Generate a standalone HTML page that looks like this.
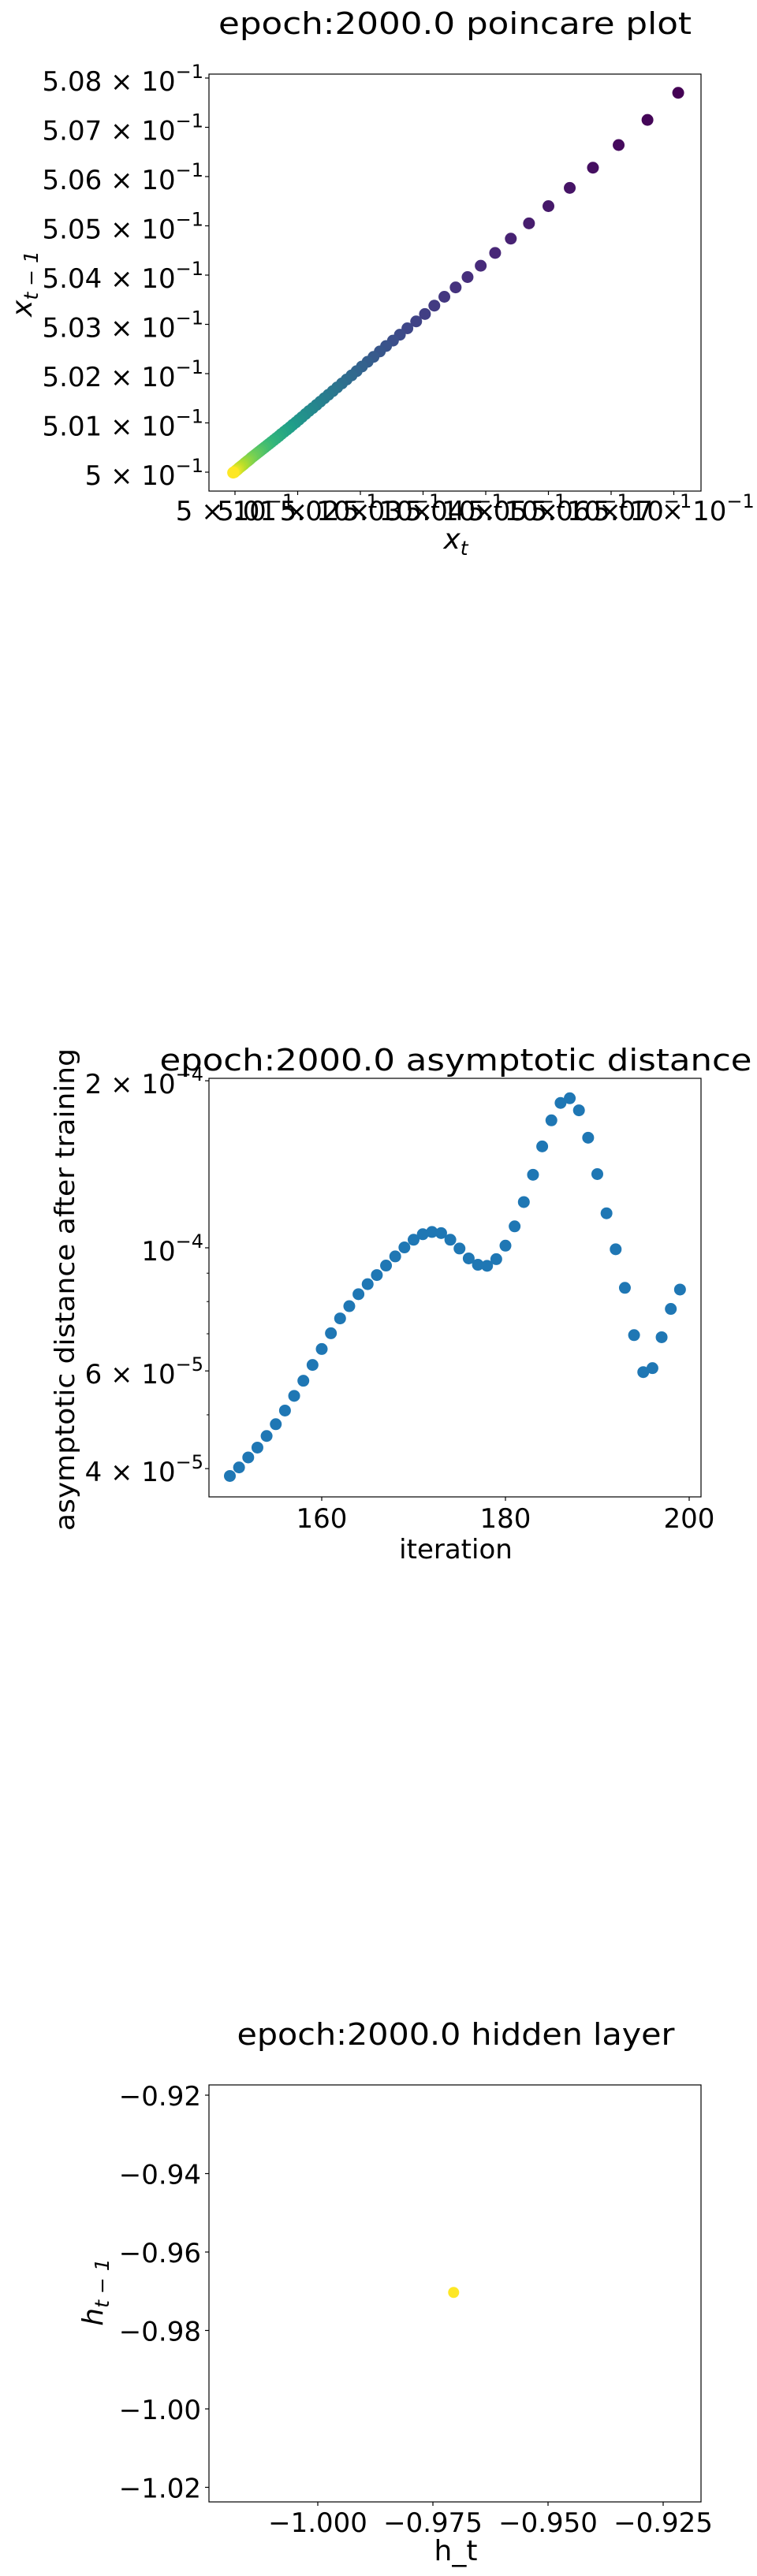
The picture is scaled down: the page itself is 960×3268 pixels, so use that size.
<!DOCTYPE html>
<html><head><meta charset="utf-8">
<style>
html,body{margin:0;padding:0;background:#fff;}
svg{display:block;font-family:"DejaVu Sans","Liberation Sans",sans-serif;}
</style></head>
<body>
<svg id="fig" width="960" height="3268" viewBox="0 0 960 3268" xmlns="http://www.w3.org/2000/svg"></svg>
<script>
// ---------- Chart 1 data: poincare plot (units of 1e-3 above 0.5) ----------
const poincareX = [7.07,6.58,6.12,5.71,5.34,5.00,4.69,4.40,4.15,3.92,3.71,3.52,3.34,3.18,3.03,2.89,2.75,2.63,2.52,2.41,2.31,2.21,2.115,2.025,1.94,1.86,1.78,1.705,1.63,1.56,1.49,1.425,1.36,1.30,1.24,1.18,1.125,1.07,1.02,0.97,0.92,0.875,0.83,0.785,0.74,0.70,0.66,0.62,0.58,0.545,0.51,0.475,0.44,0.41,0.38,0.35,0.32,0.29,0.26,0.235,0.21,0.185,0.16,0.14,0.12,0.10,0.08,0.06,0.045,0.03,0.015,0.0,-0.01,-0.02,-0.03];
const poincareY = [7.70,7.15,6.64,6.18,5.77,5.40,5.05,4.74,4.45,4.19,3.96,3.75,3.56,3.38,3.21,3.06,2.92,2.79,2.67,2.56,2.45,2.34,2.24,2.145,2.05,1.965,1.88,1.80,1.72,1.645,1.57,1.50,1.43,1.365,1.30,1.24,1.18,1.12,1.065,1.01,0.96,0.91,0.865,0.82,0.775,0.73,0.69,0.65,0.61,0.575,0.54,0.505,0.47,0.44,0.41,0.38,0.35,0.32,0.29,0.26,0.235,0.21,0.185,0.16,0.14,0.12,0.10,0.08,0.06,0.045,0.03,0.015,0.0,-0.005,-0.01];
const poincareTickVals = [0,1,2,3,4,5,6,7];
const poincareYTickVals = [0,1,2,3,4,5,6,7,8];
const poincareXLabels = ["5","5.01","5.02","5.03","5.04","5.05","5.06","5.07"];
const poincareYLabels = ["5","5.01","5.02","5.03","5.04","5.05","5.06","5.07","5.08"];

// ---------- Chart 2 data: asymptotic distance (units of 1e-4) ----------
const iterations = [150,151,152,153,154,155,156,157,158,159,160,161,162,163,164,165,166,167,168,169,170,171,172,173,174,175,176,177,178,179,180,181,182,183,184,185,186,187,188,189,190,191,192,193,194,195,196,197,198,199];
const distances = [0.388,0.402,0.419,0.4365,0.458,0.481,0.509,0.541,0.576,0.615,0.657,0.7015,0.746,0.785,0.825,0.860,0.893,0.929,0.965,1.0015,1.034,1.058,1.068,1.063,1.034,0.997,0.957,0.932,0.928,0.954,1.009,1.093,1.209,1.354,1.523,1.697,1.824,1.860,1.769,1.579,1.358,1.154,0.994,0.847,0.696,0.597,0.607,0.690,0.776,0.841];
const distXTicks = [160,180,200];
const distYMajor = [2, 1, 0.6, 0.4];
const distYLabelBase = ["2 × 10", "10", "6 × 10", "4 × 10"];
const distYLabelExp = ["−4", "−4", "−5", "−5"];
const distYMinor = [0.5, 0.7, 0.8, 0.9];

// ---------- Chart 3 data: hidden layer ----------
const hiddenX = [-0.9705];
const hiddenY = [-0.9703];
const hiddenXTicks = [-1.000,-0.975,-0.950,-0.925];
const hiddenXLabels = ["−1.000","−0.975","−0.950","−0.925"];
const hiddenYTicks = [-0.92,-0.94,-0.96,-0.98,-1.00,-1.02];
const hiddenYLabels = ["−0.92","−0.94","−0.96","−0.98","−1.00","−1.02"];

const NS = "http://www.w3.org/2000/svg";
const fig = document.getElementById('fig');
function mk(tag, attrs, parent){
  const e = document.createElementNS(NS, tag);
  for (const k in attrs) e.setAttribute(k, attrs[k]);
  (parent||fig).appendChild(e);
  return e;
}
const viridis = ["#440154","#482878","#3e4989","#31688e","#26828e","#1f9e89","#35b779","#6ece58","#b5de2b","#fde725"];
function hex(h){return [parseInt(h.slice(1,3),16),parseInt(h.slice(3,5),16),parseInt(h.slice(5,7),16)];}
function vir(t){
  const p=t*(viridis.length-1), i=Math.min(Math.floor(p),viridis.length-2), f=p-i;
  const a=hex(viridis[i]), b=hex(viridis[i+1]);
  return "rgb("+a.map((v,k)=>Math.round(v+(b[k]-v)*f)).join(",")+")";
}
function sciText(x, y, base, exp, anchor, name){
  const t = mk('text',{x:x,y:y,'font-size':34,'text-anchor':anchor,fill:'#000'});
  
  
  const a = mk('tspan',{},t); a.textContent = base;
  const b = mk('tspan',{dy:-16,'font-size':24},t); b.textContent = exp;
  return t;
}
function plainText(x,y,str,size,anchor,name,extra){
  const t = mk('text',Object.assign({x:x,y:y,'font-size':size,'text-anchor':anchor,fill:'#000'},extra||{}));
  
  
  t.textContent = str;
  return t;
}

// ================= Chart 1 =================
(function(){
  const L=265,R=889,T=94,B=623;
  const sx = v => 298 + v*79.5;
  const sy = v => 599 - v*62.5;
  plainText(577,43,"epoch:2000.0 poincare plot",38,'middle','poincare-title',{textLength:600,lengthAdjust:'spacingAndGlyphs'});
  const n = poincareX.length;
  for(let i=0;i<n;i++){
    const c = mk('circle',{cx:sx(poincareX[i]),cy:sy(poincareY[i]),r:7.5,fill:vir(i/(n-1))});
    
    
  }
  const frame = mk('rect',{x:L,y:T,width:R-L,height:B-T,fill:'none',stroke:'#000','stroke-width':1.2});
  
  
  poincareYTickVals.forEach((v,i)=>{
    const y=sy(v);
    mk('line',{x1:L-5,x2:L,y1:y,y2:y,stroke:'#000','stroke-width':1.2});
    sciText(258,y+16,poincareYLabels[i]+" × 10","−1",'end','poincare-y-tick-label');
  });
  poincareTickVals.forEach((v,i)=>{
    const x=sx(v);
    mk('line',{x1:x,x2:x,y1:B,y2:B+5,stroke:'#000','stroke-width':1.2});
    sciText(x,660,poincareXLabels[i]+" × 10","−1",'middle','poincare-x-tick-label');
  });
  const xl = mk('text',{x:578,y:696,'font-size':36,'text-anchor':'middle','font-style':'italic'});
  
  
  mk('tspan',{},xl).textContent='x';
  const s1=mk('tspan',{dy:8,'font-size':25},xl); s1.textContent='t';
  const yl = mk('text',{x:0,y:0,'font-size':36,'text-anchor':'middle','font-style':'italic',transform:'translate(40,360) rotate(-90)'});
  
  
  mk('tspan',{},yl).textContent='x';
  const s2=mk('tspan',{dy:8,'font-size':25},yl); s2.textContent='t − 1';
})();

// ================= Chart 2 =================
(function(){
  const L=265,R=889,T=1368,B=1899;
  const sx = v => 408 + (v-160)*11.65;
  const sy = v => 1583 - 704*Math.log10(v);
  plainText(578,1358,"epoch:2000.0 asymptotic distance",38,'middle','distance-title',{textLength:751,lengthAdjust:'spacingAndGlyphs'});
  iterations.forEach((it,i)=>{
    const c = mk('circle',{cx:sx(it),cy:sy(distances[i]),r:7.5,fill:'#1f77b4'});
    
    
  });
  const frame = mk('rect',{x:L,y:T,width:R-L,height:B-T,fill:'none',stroke:'#000','stroke-width':1.2});
  
  
  distYMajor.forEach((v,i)=>{
    const y=sy(v);
    mk('line',{x1:L-5,x2:L,y1:y,y2:y,stroke:'#000','stroke-width':1.2});
    sciText(258,y+16,distYLabelBase[i],distYLabelExp[i],'end','distance-y-tick-label');
  });
  distYMinor.forEach(v=>{
    const y=sy(v);
    mk('line',{x1:L-3,x2:L,y1:y,y2:y,stroke:'#000','stroke-width':1});
  });
  distXTicks.forEach(v=>{
    const x=sx(v);
    mk('line',{x1:x,x2:x,y1:B,y2:B+5,stroke:'#000','stroke-width':1.2});
    plainText(x,1938,String(v),34,'middle','distance-x-tick-label');
  });
  plainText(578,1977,"iteration",34,'middle','distance-x-axis-title');
  plainText(0,0,"asymptotic distance after training",34,'middle','distance-y-axis-title',{transform:'translate(94,1636) rotate(-90)',textLength:612,lengthAdjust:'spacingAndGlyphs'});
})();

// ================= Chart 3 =================
(function(){
  const L=265,R=889,T=2645,B=3174;
  const sx = v => 403 + (v+1.0)/0.025*146;
  const sy = v => 3056 - (v+1.0)/0.02*99.5;
  plainText(578,2594,"epoch:2000.0 hidden layer",38,'middle','hidden-title',{textLength:555,lengthAdjust:'spacingAndGlyphs'});
  hiddenX.forEach((v,i)=>{
    const c = mk('circle',{cx:sx(v),cy:sy(hiddenY[i]),r:7,fill:'#fde725'});
    
    
  });
  const frame = mk('rect',{x:L,y:T,width:R-L,height:B-T,fill:'none',stroke:'#000','stroke-width':1.2});
  
  
  hiddenYTicks.forEach((v,i)=>{
    const y=sy(v);
    mk('line',{x1:L-5,x2:L,y1:y,y2:y,stroke:'#000','stroke-width':1.2});
    plainText(255,y+13,hiddenYLabels[i],34,'end','hidden-y-tick-label');
  });
  hiddenXTicks.forEach((v,i)=>{
    const x=sx(v);
    mk('line',{x1:x,x2:x,y1:B,y2:B+5,stroke:'#000','stroke-width':1.2});
    plainText(x,3212,hiddenXLabels[i],34,'middle','hidden-x-tick-label');
  });
  plainText(578,3248,"h_t",36,'middle','hidden-x-axis-title');
  const yl = mk('text',{x:0,y:0,'font-size':36,'text-anchor':'middle','font-style':'italic',transform:'translate(130,2908) rotate(-90)'});
  
  
  mk('tspan',{},yl).textContent='h';
  const s=mk('tspan',{dy:8,'font-size':25},yl); s.textContent='t − 1';
})();
</script>
</body></html>
